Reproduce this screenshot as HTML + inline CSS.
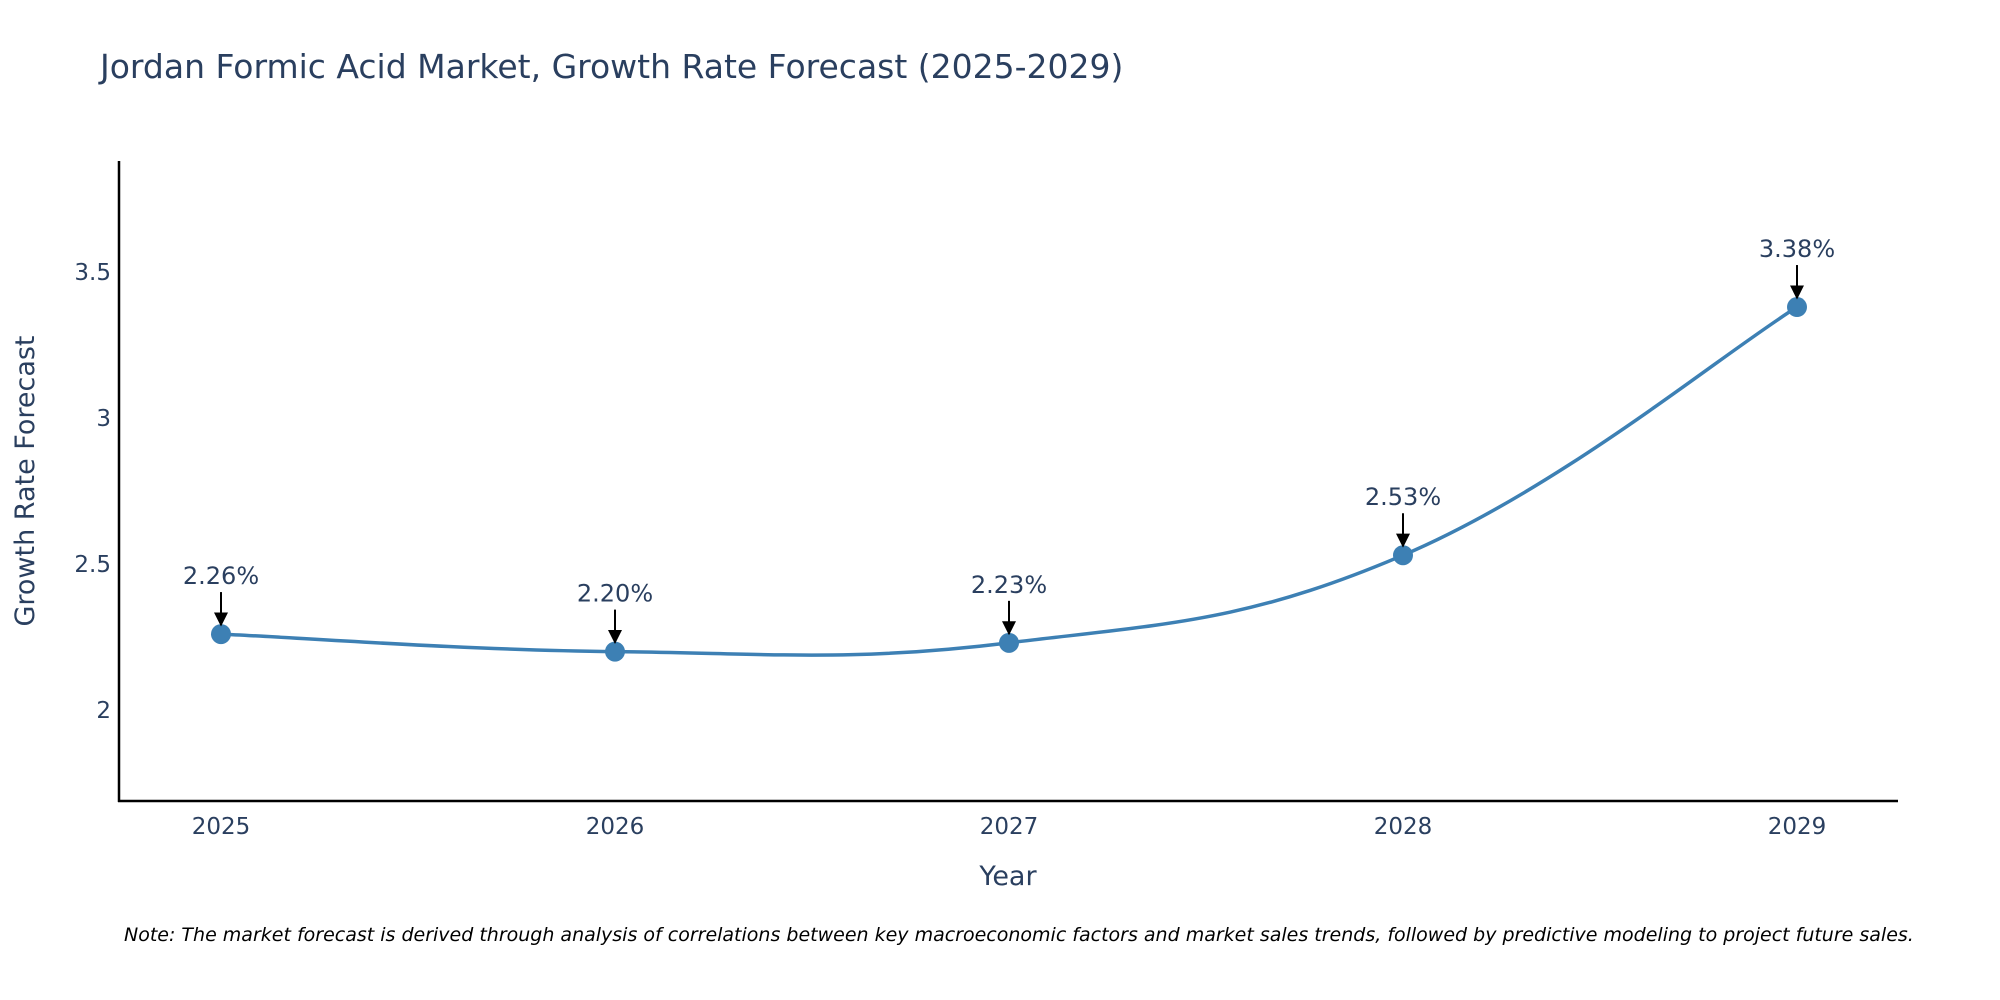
<!DOCTYPE html>
<html><head><meta charset="utf-8"><style>
html,body{margin:0;padding:0;background:#fff;}
svg{display:block;font-family:"DejaVu Sans","Liberation Sans",sans-serif;}
</style></head><body>
<svg width="2000" height="1000" viewBox="0 0 2000 1000">
<text x="100" y="78" font-size="33" fill="#2a3f5f">Jordan Formic Acid Market, Growth Rate Forecast (2025-2029)</text>
<g id="yticks"></g><g id="xticks"></g>
<line x1="119" y1="161" x2="119" y2="802" stroke="#000" stroke-width="2.5"/>
<line x1="118" y1="801" x2="1898" y2="801" stroke="#000" stroke-width="2.5"/>
<path id="line" fill="none" stroke="#3d80b4" stroke-width="3.5"/>
<g id="marks"></g>
<text x="1008" y="885" font-size="27" fill="#2a3f5f" text-anchor="middle">Year</text>
<text transform="translate(34,481) rotate(-90)" font-size="27" fill="#2a3f5f" text-anchor="middle">Growth Rate Forecast</text>
<text x="124" y="941" font-size="19" font-style="italic" fill="#000">Note: The market forecast is derived through analysis of correlations between key macroeconomic factors and market sales trends, followed by predictive modeling to project future sales.</text>
<defs><marker id="ah" viewBox="0 0 10 10" refX="9" refY="5" markerWidth="7" markerHeight="7" orient="auto"><path d="M0,0L10,5L0,10z" fill="#000"/></marker></defs>
</svg>
<script>
const years=[2025,2026,2027,2028,2029];
const values=[2.26,2.20,2.23,2.53,3.38];
const labels=["2.26%","2.20%","2.23%","2.53%","3.38%"];
const yTickVals=[2,2.5,3,3.5];
const yTickLabels=["2","2.5","3","3.5"];
const NS="http://www.w3.org/2000/svg";
function xs(v){return 221+(v-2025)*(1797-221)/4;}
function ys(v){return 710-(v-2)*(710-272)/1.5;}
function mk(t,a,p){const e=document.createElementNS(NS,t);for(const k in a)e.setAttribute(k,a[k]);p.appendChild(e);return e;}
const yt=document.getElementById('yticks');
yTickVals.forEach((v,i)=>{const t=mk('text',{x:111,y:ys(v)+8,'font-size':23,fill:'#2a3f5f','text-anchor':'end'},yt);


t.textContent=yTickLabels[i];});
const xt=document.getElementById('xticks');
years.forEach(y=>{const t=mk('text',{x:xs(y),y:834,'font-size':23,fill:'#2a3f5f','text-anchor':'middle'},xt);


t.textContent=String(y);});
const P=years.map((y,i)=>[xs(y),ys(values[i])]);
let d='M'+P[0][0]+','+P[0][1];const s=0.2;
for(let i=0;i<P.length-1;i++){const p0=P[Math.max(0,i-1)],p1=P[i],p2=P[i+1],p3=P[Math.min(P.length-1,i+2)];
d+=' C'+(p1[0]+(p2[0]-p0[0])*s)+','+(p1[1]+(p2[1]-p0[1])*s)+' '+(p2[0]-(p3[0]-p1[0])*s)+','+(p2[1]-(p3[1]-p1[1])*s)+' '+p2[0]+','+p2[1];}
document.getElementById('line').setAttribute('d',d);
const g=document.getElementById('marks');
P.forEach((p,i)=>{const c=mk('circle',{cx:p[0],cy:p[1],r:10,fill:'#3d80b4'},g);


const a=mk('line',{x1:p[0],y1:p[1]-42,x2:p[0],y2:p[1]-9,stroke:'#000','stroke-width':2,'marker-end':'url(#ah)'},g);


const t=mk('text',{x:p[0],y:p[1]-50,'font-size':24,fill:'#2a3f5f','text-anchor':'middle'},g);


t.textContent=labels[i];});
</script>
</body></html>
